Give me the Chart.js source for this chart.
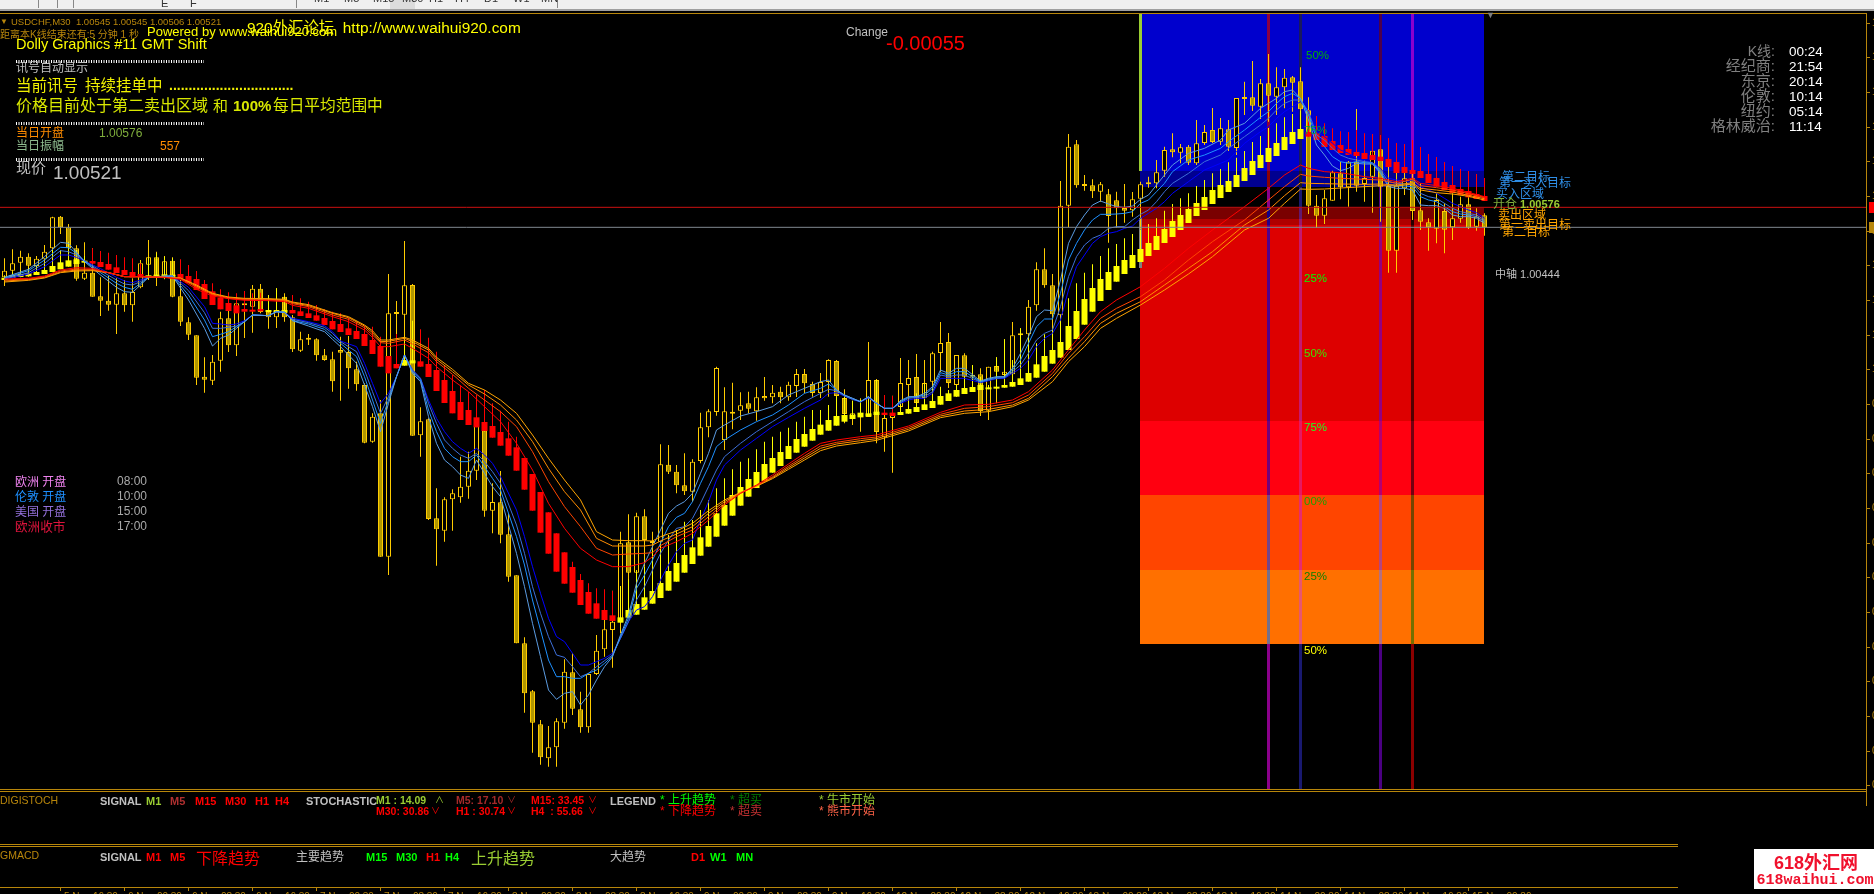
<!DOCTYPE html>
<html>
<head>
<meta charset="utf-8">
<title>USDCHF,M30</title>
<script src="https://cdn.jsdelivr.net/npm/chart.js@4"></script>
<style>
  html, body { margin: 0; padding: 0; background: #000; overflow: hidden; }
  canvas { display: block; }
</style>
</head>
<body>
<canvas id="chart" width="1874" height="894"></canvas>
<script>
// all prices are points above 1.00000 (576 = 1.00576)
const candleOpen = [366,386,410,428,400,420,453,548,516,453,362,380,309,296,284,318,282,336,404,426,363,416,309,231,192,68,56,116,243,162,288,278,332,263,246,308,246,146,180,180,132,120,148,142,90,43,-127,-42,-472,257,254,343,-108,-60,-357,-394,-300,-294,-262,-214,-94,-334,-309,-405,-528,-732,-876,-975,-1077,-1044,-970,-819,-930,-984,-824,-750,-692,-669,-429,-520,-351,-425,-427,-196,-217,-258,-277,-185,-84,-38,-122,-38,-34,-12,-36,10,6,23,6,40,76,46,19,52,115,4,-54,-54,-53,58,-114,-56,-23,43,67,4,53,139,172,43,132,68,75,-34,100,73,75,192,195,282,390,342,252,581,765,641,642,623,615,597,574,567,602,645,648,686,750,740,758,708,769,808,773,810,754,901,906,878,948,908,936,966,954,867,581,551,596,678,636,713,646,668,750,640,446,633,663,567,531,512,565,516,542,585,518,552];
const candleHigh = [423,450,446,438,430,463,548,550,526,462,471,453,366,370,363,358,363,418,478,443,430,426,358,246,192,126,133,263,293,308,323,343,346,313,333,318,253,203,196,183,151,143,188,190,113,48,-42,-2,376,295,475,346,-24,-57,-267,-294,-270,-172,-157,-72,-82,-252,-215,-342,-528,-714,-872,-962,-980,-957,-780,-762,-877,-822,-707,-662,-574,-397,-345,-340,-330,-397,-135,-137,-197,-162,-180,-40,-30,98,36,50,21,23,36,67,43,38,53,91,91,53,79,120,118,30,-4,3,172,61,-42,11,124,118,136,118,143,232,199,133,138,103,93,98,126,180,232,213,298,411,453,376,655,796,778,673,660,652,631,623,646,622,653,668,718,758,798,766,763,838,823,874,844,838,904,953,1015,961,1036,996,991,970,996,906,613,628,686,713,715,871,718,748,793,783,768,748,778,648,543,618,588,618,608,608,573,558];
const candleLow = [340,363,366,368,373,376,398,496,403,356,358,308,250,266,196,263,233,333,358,340,360,306,220,178,43,20,43,83,142,130,184,200,258,212,214,233,142,142,163,116,116,23,-4,32,26,-132,-130,-472,-527,108,108,-109,-172,-362,-499,-427,-394,-310,-298,-242,-352,-402,-432,-547,-732,-940,-1060,-1096,-1102,-1102,-988,-947,-1000,-1000,-827,-772,-805,-702,-542,-642,-502,-452,-432,-224,-282,-287,-307,-192,-114,-49,-152,-90,-62,-42,-64,-4,-12,-12,-4,7,18,8,4,8,-47,-72,-77,-97,-53,-132,-157,-220,-32,-26,-23,-11,18,82,34,8,63,38,-50,-62,-12,38,68,68,78,266,335,198,178,516,635,626,604,593,470,515,530,548,510,635,633,668,726,708,703,703,763,769,763,745,733,853,865,841,833,853,873,863,865,556,515,526,596,600,578,623,593,560,533,380,380,613,538,508,446,468,438,478,530,511,506,491];
const candleClose = [386,408,428,401,422,443,546,516,453,362,380,308,296,284,318,282,322,408,426,370,414,308,233,194,65,59,113,243,162,288,282,332,262,246,268,246,150,180,179,132,118,54,140,93,45,-130,-52,-472,258,256,342,-109,-66,-359,-390,-300,-282,-262,-214,-80,-334,-308,-406,-532,-732,-882,-970,-1074,-1044,-966,-817,-928,-984,-824,-754,-690,-667,-432,-520,-351,-422,-426,-195,-217,-258,-276,-187,-84,-36,94,-36,-37,-18,-28,6,3,20,6,44,76,48,19,52,118,10,-44,-42,-42,58,-98,-56,-40,49,64,-11,49,138,169,49,133,68,69,-35,98,83,83,192,193,278,390,342,255,581,758,642,640,624,645,550,573,566,600,645,646,681,748,741,756,710,768,802,772,813,758,904,902,881,948,911,936,965,950,870,581,551,603,681,636,713,641,664,746,638,446,641,663,565,533,516,598,509,543,585,515,548,516];

// smoothed (heiken ashi) bars
const haOpen = [358,365,367,369,373,376,382,390,398,406,410,415,412,406,396,388,382,376,366,366,367,368,376,370,361,346,324,305,289,282,271,268,271,262,261,260,268,264,258,252,244,235,226,213,205,196,178,160,130,106,101,108,114,106,88,58,25,-8,-32,-54,-68,-80,-98,-117,-144,-176,-224,-278,-339,-402,-459,-503,-542,-578,-612,-632,-648,-670,-655,-646,-631,-613,-596,-574,-547,-520,-494,-469,-442,-412,-379,-349,-319,-292,-266,-245,-220,-200,-179,-160,-142,-124,-106,-94,-79,-67,-59,-54,-52,-47,-40,-40,-47,-43,-38,-32,-26,-16,-5,8,16,22,28,30,32,35,38,43,53,65,83,107,125,148,181,224,263,295,328,353,376,394,412,430,448,469,487,508,529,550,568,586,604,622,637,655,673,694,712,730,748,766,781,802,798,790,775,763,751,742,739,733,728,721,712,697,688,685,676,664,652,643,631,625,616,610];
const haClose = [365,373,376,378,382,388,400,411,417,420,415,407,397,389,379,373,366,366,372,374,375,374,362,349,328,301,283,270,265,258,263,263,264,268,267,268,258,250,244,236,223,210,202,193,181,160,136,98,78,93,118,117,98,67,25,-11,-42,-62,-77,-84,-95,-115,-139,-169,-214,-271,-334,-400,-463,-517,-553,-580,-617,-643,-658,-662,-665,-654,-632,-614,-594,-575,-551,-515,-491,-467,-444,-414,-380,-342,-317,-287,-263,-239,-218,-194,-176,-158,-140,-119,-104,-89,-76,-62,-50,-47,-46,-40,-42,-37,-47,-50,-38,-29,-23,-15,-5,10,18,28,34,37,43,35,37,43,52,63,79,105,130,148,172,220,265,301,334,361,382,400,418,433,451,469,490,511,535,553,571,589,607,628,643,655,673,694,715,733,754,769,787,802,811,788,778,757,748,739,733,730,721,718,715,697,679,679,676,664,649,638,628,619,613,606,601,595];
const haHigh = [372,382,388,395,400,410,448,448,473,448,430,453,445,440,433,426,423,408,426,438,428,423,420,403,385,358,348,330,321,318,325,318,320,313,333,308,313,303,293,283,270,263,258,245,233,220,218,188,130,196,188,236,210,185,143,100,73,42,23,13,28,-12,-34,-67,-112,-176,-224,-278,-339,-402,-459,-487,-524,-552,-567,-570,-575,-560,-540,-512,-502,-452,-432,-407,-392,-367,-362,-332,-302,-267,-237,-210,-187,-177,-150,-127,-112,-97,-85,-67,-52,-32,-32,-17,8,8,-4,-2,8,58,13,10,-2,-2,18,48,33,38,28,43,68,103,68,43,126,180,118,213,193,168,195,208,248,303,348,380,405,430,453,466,483,496,508,526,543,566,586,603,618,640,658,678,691,711,725,745,772,790,814,828,846,856,865,868,850,828,813,804,802,808,798,796,793,784,769,766,778,757,736,727,712,700,691,685,676,664];

// fast group of moving averages, read at the listed bars only
const blueBars = [0,3,5,7,8,9,10,12,14,15,16,17,18,19,21,23,25,26,27,28,29,30,31,33,34,35,36,38,40,41,42,44,45,46,47,48,49,50,51,52,53,54,55,56,57,58,59,60,61,62,64,65,66,67,68,69,70,71,72,73,74,75,76,77,78,79,80,81,82,83,84,85,86,87,88,89,90,92,94,96,98,100,102,103,104,105,106,107,108,109,110,111,112,113,114,115,116,117,118,119,120,122,123,124,125,126,127,128,129,130,131,132,133,134,135,136,137,138,139,140,141,142,143,144,145,146,148,150,152,153,155,157,158,159,160,161,162,163,164,165,166,167,168,169,170,171,172,173,174,175,176,177,178,179,180,181,182,183,184,185];
const blueA = [366,390,428,471,468,441,413,373,336,323,321,343,366,368,370,298,213,160,183,193,213,233,253,251,263,261,236,220,203,180,158,108,43,-22,-97,-12,68,133,78,53,-52,-132,-182,-202,-227,-237,-182,-222,-262,-292,-462,-562,-672,-772,-872,-900,-882,-877,-917,-887,-842,-802,-772,-707,-647,-552,-492,-442,-392,-342,-320,-307,-282,-222,-162,-92,-77,-50,-37,-22,13,33,53,58,28,13,3,-7,8,-12,-27,-27,-4,8,8,18,38,88,78,93,93,55,63,68,68,93,138,188,248,268,266,358,468,518,553,583,595,586,578,576,580,600,613,643,673,703,738,753,778,808,828,873,888,903,923,928,903,838,763,733,700,686,693,708,706,706,678,638,633,633,628,583,581,581,573,553,548,548,543,528];
const blueB = [364,386,418,456,455,438,415,380,348,336,330,348,366,368,370,313,238,188,195,203,218,233,253,251,263,261,236,226,210,188,168,128,68,-2,-72,-2,68,133,83,58,-32,-97,-147,-172,-187,-187,-167,-202,-237,-272,-412,-497,-602,-692,-782,-832,-832,-837,-837,-822,-812,-792,-770,-712,-657,-567,-527,-482,-432,-382,-354,-342,-307,-252,-202,-142,-122,-92,-67,-47,-17,18,33,46,28,13,3,-7,8,-12,-27,-27,-7,6,8,13,33,80,73,83,83,53,60,66,67,88,118,168,218,241,241,318,418,468,508,538,555,555,556,558,563,588,598,623,648,683,718,733,753,773,808,846,863,888,908,918,903,853,783,758,728,713,708,713,710,708,683,643,640,640,638,608,598,593,578,563,556,553,548,533];
const blueC = [362,380,408,446,443,433,415,386,358,346,343,353,366,368,370,326,260,213,213,216,220,233,253,251,263,261,240,230,216,198,173,143,88,23,-42,8,68,133,88,63,-12,-72,-122,-147,-167,-177,-162,-187,-217,-252,-377,-462,-562,-642,-712,-767,-774,-802,-832,-822,-802,-784,-767,-717,-667,-602,-562,-512,-462,-422,-387,-382,-357,-312,-262,-212,-172,-132,-97,-67,-37,-7,18,30,26,10,0,-7,6,-12,-27,-27,-10,3,6,8,23,73,68,73,73,52,58,63,65,83,103,138,178,198,208,278,368,428,463,483,493,513,518,518,538,555,568,593,623,648,678,713,733,753,788,823,843,868,888,898,898,863,793,778,753,733,723,718,713,710,688,653,648,646,646,618,608,603,588,573,563,558,553,538];
const blueD = [360,376,398,433,433,426,415,392,366,355,350,358,368,368,370,336,278,228,226,223,226,236,253,251,263,261,243,233,221,203,175,158,108,48,-12,18,68,133,88,63,-2,-57,-97,-127,-147,-162,-147,-167,-192,-232,-332,-412,-502,-582,-657,-712,-727,-762,-797,-797,-787,-777,-762,-717,-667,-632,-622,-592,-542,-497,-457,-432,-422,-362,-307,-242,-197,-152,-117,-82,-54,-27,-2,18,20,10,0,-8,4,-12,-27,-27,-12,-2,3,3,18,63,63,63,63,50,56,62,63,78,93,118,158,183,198,238,328,398,433,468,488,498,503,513,520,543,558,573,593,618,653,688,708,718,768,803,818,843,863,878,893,863,803,788,768,748,738,723,716,710,693,663,658,653,658,638,628,618,603,588,578,568,560,543];

// slow group of moving averages
const redBars = [0,3,5,7,9,11,13,15,17,20,22,24,26,28,30,33,35,36,38,41,43,45,46,47,48,50,51,53,54,56,58,60,62,64,66,68,70,72,74,76,78,80,81,82,84,86,88,90,92,94,96,98,100,102,104,107,109,113,117,120,123,126,128,131,133,135,137,139,142,145,148,151,155,158,160,162,163,165,167,170,172,174,176,177,179,181,183,185];
const redA = [361,363,370,388,395,393,380,368,368,366,360,330,310,302,297,296,293,282,273,248,233,208,186,158,158,166,153,123,98,58,23,-22,-67,-132,-212,-312,-387,-447,-482,-502,-502,-490,-472,-447,-427,-402,-362,-317,-282,-257,-227,-194,-162,-132,-122,-112,-107,-80,-39,-17,-15,-2,23,88,148,208,263,298,338,393,453,508,578,633,673,703,693,683,680,668,663,653,663,648,641,633,621,608];
const redB = [358,361,368,385,391,390,380,368,368,366,362,336,314,303,299,298,296,287,278,253,240,215,193,170,168,178,166,140,113,75,33,-2,-37,-82,-157,-247,-322,-382,-447,-467,-464,-462,-460,-439,-412,-392,-352,-312,-282,-259,-232,-200,-170,-140,-129,-118,-113,-85,-45,-27,-22,-10,13,78,138,188,243,273,308,358,418,473,538,598,638,675,670,666,663,660,658,648,660,641,635,628,617,606];
const redC = [355,359,366,382,388,388,380,368,368,366,363,340,316,305,301,300,298,290,281,258,245,220,200,173,174,183,173,148,120,83,43,16,-17,-62,-127,-207,-277,-332,-417,-440,-440,-440,-437,-425,-404,-382,-342,-307,-280,-260,-235,-205,-176,-147,-134,-124,-118,-90,-50,-35,-30,-17,3,68,123,173,228,258,293,343,393,443,523,568,611,650,648,647,646,645,646,643,650,633,628,622,612,602];
const redD = [352,357,364,380,385,386,380,368,368,366,364,343,318,307,303,302,300,292,284,260,248,223,206,178,178,186,178,153,126,90,48,28,-2,-42,-107,-177,-242,-302,-397,-422,-424,-424,-425,-412,-395,-372,-334,-302,-279,-261,-238,-210,-182,-154,-140,-130,-123,-95,-55,-42,-37,-22,-2,53,113,158,213,243,283,328,376,428,508,543,588,631,630,631,634,638,641,640,646,628,620,616,609,598];

// price levels and session markers
const openLevel = 576;
const closeLevel = 516;
const sessionBars = [158, 162, 172, 176];
const sessionColors = ['#8b008b', '#191970', '#4b0082', '#8b0000'];
const sessionTop = 1159, sessionBottom = -1169;
const dayStartBar = 142;
const dayEndBar = 185;

// daily range bands, low and high edge of each
const bandLow = [685, 637, 541, 523, -65, -287, -512, -734];
const bandHigh = [1159, 685, 574, 541, 523, -65, -287, -512];
const bandColors = ['#0000cd', '#000090', '#7a0000', '#b00000', '#dd0000', '#ff0010', '#ff4500', '#ff7000'];

const priceTicks = [1130,1026,922,818,714,610,506,402,298,194,90,-14,-118,-222,-326,-430,-534,-638,-742,-846,-950,-1054,-1158];
const timeTickBars = [7,15,23,31,39,47,55,63,71,79,87,95,103,111,119,127,135,143,151,159,167,175,183];
const timeTickLabels = ['5 Nov 16:30','6 Nov 00:30','6 Nov 08:30','6 Nov 16:30','7 Nov 00:30','7 Nov 08:30','7 Nov 16:30','8 Nov 00:30','8 Nov 08:30','8 Nov 16:30','9 Nov 00:30','9 Nov 08:30','9 Nov 16:30','12 Nov 00:30','12 Nov 08:30','12 Nov 16:30','13 Nov 00:30','13 Nov 08:30','13 Nov 16:30','14 Nov 00:30','14 Nov 08:30','14 Nov 16:30','15 Nov 00:30'];

const GOLD = '#b8860b';
const SANS = '"Liberation Sans","Noto Sans CJK SC",sans-serif';

// text, x, y (middle), colour, font size, bold, align
const texts = [
  ['USDCHF,M30  1.00545 1.00545 1.00506 1.00521', 11, 22, GOLD, 9.5],
  ['距离本K线结束还有:5 分钟 1 秒', 0, 35, GOLD, 10],
  ['Powered by www.waihui920.com', 147, 32, '#ffff00', 13],
  ['920外汇论坛  http://www.waihui920.com', 247, 29, '#ffff00', 15.4],
  ['Dolly Graphics #11 GMT Shift', 16, 45, '#ffff00', 14.5],
  ['讯号自动显示', 16, 69, '#c0c0c0', 12],
  ['当前讯号', 16, 87, '#f0f000', 15.5],
  ['持续挂单中', 85, 87, '#f0f000', 15.5],
  ['................................', 169, 86, '#f0f000', 14, true],
  ['价格目前处于第二卖出区域', 16, 107, '#d8e800', 16],
  ['和', 213, 107, '#d8e800', 15],
  ['100%', 233, 107, '#d8e800', 15, true],
  ['每日平均范围中', 273, 107, '#d8e800', 15.7],
  ['当日开盘', 16, 134, '#ff8c00', 12],
  ['1.00576', 99, 134, '#7fae3c', 12],
  ['当日振幅', 16, 147, '#8fbc8f', 12],
  ['557', 160, 147, '#ff8c00', 12],
  ['现价', 16, 169, '#c0c0c0', 15],
  ['1.00521', 53, 174, '#c0c0c0', 19],
  ['Change', 846, 33, '#c0c0c0', 12],
  ['-0.00055', 886, 44, '#ff0000', 20],
  ['K线:', 1775, 52, '#808080', 14, false, 'right'],
  ['经纪商:', 1775, 67, '#808080', 15, false, 'right'],
  ['东京:', 1775, 82, '#808080', 15, false, 'right'],
  ['伦敦:', 1775, 97, '#808080', 15, false, 'right'],
  ['纽约:', 1775, 112, '#808080', 15, false, 'right'],
  ['格林威治:', 1775, 127, '#808080', 15, false, 'right'],
  ['00:24', 1789, 52, '#ffffff', 13.5],
  ['21:54', 1789, 67, '#ffffff', 13.5],
  ['20:14', 1789, 82, '#ffffff', 13.5],
  ['10:14', 1789, 97, '#ffffff', 13.5],
  ['05:14', 1789, 112, '#ffffff', 13.5],
  ['11:14', 1789, 127, '#ffffff', 13.5],
  ['50%', 1306, 56, '#00b000', 11.5],
  ['75%', 1304, 131, '#00a830', 11.5],
  ['25%', 1304, 279, '#00ff00', 11.5],
  ['50%', 1304, 354, '#40e000', 11.5],
  ['75%', 1304, 428, '#20ff20', 11.5],
  ['00%', 1304, 502, '#20a000', 11.5],
  ['25%', 1304, 577, '#108000', 11.5],
  ['50%', 1304, 651, '#ffff00', 11.5],
  ['第二目标', 1502, 178, '#2f8fe8', 12],
  ['第一买入目标', 1499, 184, '#2f8fe8', 12],
  ['买入区域', 1496, 195, '#2f8fe8', 12],
  ['开仓', 1493, 205, '#7fae3c', 12],
  ['1.00576', 1520, 205, '#9acd32', 11, true],
  ['卖出区域', 1498, 216, '#ffa500', 12],
  ['第一卖出目标', 1499, 226, '#ffa500', 12],
  ['第二目标', 1502, 233, '#ffa500', 12],
  ['中轴 1.00444', 1495, 275, '#c0c0c0', 11],
  ['欧洲 开盘', 15, 483, '#ee82ee', 12],
  ['伦敦 开盘', 15, 498, '#1e90ff', 12],
  ['美国 开盘', 15, 513, '#9370db', 12],
  ['欧洲收市', 15, 528, '#dc143c', 12.6],
  ['08:00', 117, 482, '#a9a9a9', 12],
  ['10:00', 117, 497, '#a9a9a9', 12],
  ['15:00', 117, 512, '#a9a9a9', 12],
  ['17:00', 117, 527, '#a9a9a9', 12],
  ['DIGISTOCH', 0, 801, GOLD, 10.5],
  ['SIGNAL', 100, 802, '#c0c0c0', 11, true],
  ['M1', 146, 802, '#9acd32', 11, true],
  ['M5', 170, 802, '#b03030', 11, true],
  ['M15', 195, 802, '#ff0000', 11, true],
  ['M30', 225, 802, '#ff0000', 11, true],
  ['H1', 255, 802, '#ff0000', 11, true],
  ['H4', 275, 802, '#ff0000', 11, true],
  ['STOCHASTIC', 306, 802, '#c0c0c0', 11, true],
  ['M1 : 14.09', 376, 801, '#9acd32', 10.5, true],
  ['∧', 435, 801, '#9acd32', 9],
  ['M5: 17.10', 456, 801, '#a52a2a', 10.5, true],
  ['∨', 507, 801, '#a52a2a', 9],
  ['M15: 33.45', 531, 801, '#ff0000', 10.5, true],
  ['∨', 588, 801, '#ff0000', 9],
  ['M30: 30.86', 376, 812, '#ff0000', 10.5, true],
  ['∨', 431, 812, '#ff0000', 9],
  ['H1 : 30.74', 456, 812, '#ff0000', 10.5, true],
  ['∨', 507, 812, '#ff0000', 9],
  ['H4  : 55.66', 531, 812, '#ff0000', 10.5, true],
  ['∨', 588, 812, '#ff0000', 9],
  ['LEGEND', 610, 802, '#c0c0c0', 11, true],
  ['* 上升趋势', 660, 801, '#00ff00', 12],
  ['* 下降趋势', 660, 812, '#ff0000', 12],
  ['* 超买', 730, 801, '#008000', 12],
  ['* 超卖', 730, 812, '#c03030', 12],
  ['* 牛市开始', 819, 801, '#9acd32', 12],
  ['* 熊市开始', 819, 812, '#ff6347', 12],
  ['GMACD', 0, 856, GOLD, 10.5],
  ['SIGNAL', 100, 858, '#c0c0c0', 11, true],
  ['M1', 146, 858, '#ff0000', 11, true],
  ['M5', 170, 858, '#ff0000', 11, true],
  ['下降趋势', 196, 860, '#ff0000', 16],
  ['主要趋势', 296, 858, '#c0c0c0', 12],
  ['M15', 366, 858, '#00ff00', 11, true],
  ['M30', 396, 858, '#00ff00', 11, true],
  ['H1', 426, 858, '#ff0000', 11, true],
  ['H4', 445, 858, '#00ff00', 11, true],
  ['上升趋势', 471, 860, '#9acd32', 16],
  ['大趋势', 610, 858, '#c0c0c0', 12],
  ['D1', 691, 858, '#ff0000', 11, true],
  ['W1', 710, 858, '#00ff00', 11, true],
  ['MN', 736, 858, '#00ff00', 11, true],
  ['▼', 0, 22, GOLD, 8],
  ['▼', 1486, 16, '#7f7f7f', 9]
];

const toolbarLabels = [['M1', 314], ['M5', 344], ['M15', 373], ['M30', 402], ['H1', 429], ['H4', 455], ['D1', 484], ['W1', 513], ['MN', 541]];

function barRange(bar, a, b) { return { x: bar, y: [Math.min(a, b), Math.max(a, b)] }; }
function seriesOf(bars, values) { return bars.map((b, i) => ({ x: b, y: values[i] })); }
function barSet(data, thickness, color, extra) {
  return Object.assign({
    type: 'bar', data, grouped: false, barThickness: thickness, backgroundColor: color,
    borderWidth: 0, borderSkipped: false, inflateAmount: 0
  }, extra);
}
function lineSet(data, color) {
  return { type: 'line', data, borderColor: color, borderWidth: 1, pointRadius: 0, tension: 0, fill: false };
}

const barIdx = candleOpen.map((_, i) => i);
const haUp = barIdx.map(i => haClose[i] >= haOpen[i]);
const bandBar = (dayStartBar + dayEndBar) / 2 - 1 / 16;
const levelEnd = (1866 - 4.5) / 8;

const datasets = [
  barSet(bandLow.map((lo, i) => barRange(bandBar, lo, bandHigh[i])), (dayEndBar - dayStartBar) * 8, bandColors),
  barSet(sessionBars.map(b => barRange(b, sessionBottom, sessionTop)), 3, sessionColors, { blend: true }),
  barSet([barRange(dayStartBar, 685, 1159), barRange(dayStartBar, 394, 544)], 3, ['#9acd32', '#808080']),
  barSet(barIdx.map(i => barRange(i, candleLow[i], candleHigh[i])), 1, '#ffcc00'),
  barSet(barIdx.map(i => barRange(i, candleOpen[i], candleClose[i])), 5,
    barIdx.map(i => candleClose[i] >= candleOpen[i] ? '#000000' : '#b09600'),
    { borderWidth: 1, borderColor: '#ffcc00', minBarLength: 2 }),
  barSet(barIdx.map(i => barRange(i, Math.min(haOpen[i], haClose[i]), haHigh[i])), 1,
    barIdx.map(i => haUp[i] ? '#ffff00' : '#ff0000')),
  barSet(barIdx.map(i => barRange(i, haOpen[i], haClose[i])), 6,
    barIdx.map(i => haUp[i] ? '#ffff00' : '#ff0000'), { minBarLength: 2 }),
  lineSet(seriesOf(blueBars, blueD), '#0000ff'),
  lineSet(seriesOf(blueBars, blueC), '#3d6fd8'),
  lineSet(seriesOf(blueBars, blueB), '#1e90ff'),
  lineSet(seriesOf(blueBars, blueA), '#5b9be0'),
  lineSet(seriesOf(redBars, redD), '#ffa500'),
  lineSet(seriesOf(redBars, redC), '#ff8c00'),
  lineSet(seriesOf(redBars, redB), '#ff4500'),
  lineSet(seriesOf(redBars, redA), '#ff0000'),
  lineSet([{ x: -0.5625, y: openLevel }, { x: levelEnd, y: openLevel }], '#cc1010'),
  lineSet([{ x: -0.5625, y: closeLevel }, { x: levelEnd, y: closeLevel }], '#808890')
];
// first in the list is painted first
datasets.forEach((d, i) => { d.order = datasets.length - i; });

function hline(ctx, y, x1, x2, color) {
  ctx.fillStyle = color;
  ctx.fillRect(x1, y, x2 - x1, 1);
}

const chrome = {
  id: 'chrome',
  beforeDraw(chart) {
    const ctx = chart.ctx;
    ctx.save();
    ctx.fillStyle = '#000';
    ctx.fillRect(0, 0, 1874, 894);
    ctx.restore();
  },
  beforeDatasetDraw(chart, args) {
    if (chart.data.datasets[args.index].blend) {
      chart.ctx.save();
      chart.ctx.globalCompositeOperation = 'difference';
    }
  },
  afterDatasetDraw(chart, args) {
    if (chart.data.datasets[args.index].blend) chart.ctx.restore();
  },
  afterDraw(chart) {
    const ctx = chart.ctx, xs = chart.scales.x, ys = chart.scales.y;
    ctx.save();

    // window toolbar cut off at the top
    ctx.fillStyle = '#f0f0f0';
    ctx.fillRect(0, 0, 1874, 9);
    ctx.fillStyle = '#a0a0a0';
    ctx.fillRect(0, 9, 1874, 2);
    ctx.fillStyle = '#888';
    [38, 57, 73, 296, 557].forEach(x => ctx.fillRect(x, 0, 1, 8));
    ctx.fillStyle = '#dcdcdc';
    ctx.fillRect(390, 0, 25, 9);
    ctx.fillStyle = '#333';
    ctx.textBaseline = 'alphabetic';
    ctx.font = '11px ' + SANS;
    toolbarLabels.forEach(l => ctx.fillText(l[0], l[1], 2));
    ctx.fillText('E', 161, 7);
    ctx.fillText('F', 190, 7);

    // frame
    hline(ctx, 13, 0, 1867, GOLD);
    ctx.fillStyle = GOLD;
    ctx.fillRect(1866, 13, 1, 793);
    hline(ctx, 789, 0, 1866, GOLD);
    hline(ctx, 791, 0, 1866, GOLD);
    hline(ctx, 844, 0, 1678, GOLD);
    hline(ctx, 846, 0, 1678, GOLD);
    hline(ctx, 887, 0, 1678, GOLD);

    // price ticks and the labels cut off by the window edge
    ctx.textBaseline = 'middle';
    ctx.font = '10px ' + SANS;
    priceTicks.forEach(v => {
      const y = Math.round(ys.getPixelForValue(v));
      ctx.fillStyle = GOLD;
      ctx.fillRect(1866, y, 4, 1);
      ctx.fillText((1 + v / 100000).toFixed(5), 1872, y);
    });
    [[openLevel, '#ff0000'], [closeLevel, GOLD]].forEach(l => {
      const y = Math.round(ys.getPixelForValue(l[0]));
      ctx.fillStyle = l[1];
      ctx.fillRect(1869, y - 5, 5, 11);
    });

    // time ticks
    timeTickBars.forEach((b, i) => {
      const x = xs.getPixelForValue(b);
      ctx.fillStyle = GOLD;
      ctx.fillRect(Math.floor(x), 887, 1, 4);
      ctx.font = '10px ' + SANS;
      ctx.fillText(timeTickLabels[i], Math.floor(x) + 4, 897);
    });

    // dotted separators
    ctx.strokeStyle = '#fff';
    ctx.lineWidth = 3;
    ctx.setLineDash([1, 1.5]);
    [61, 123, 159].forEach(y => {
      ctx.beginPath();
      ctx.moveTo(16, y + 0.5);
      ctx.lineTo(204, y + 0.5);
      ctx.stroke();
    });
    ctx.setLineDash([]);

    // watermark
    ctx.fillStyle = '#fff';
    ctx.fillRect(1754, 849, 120, 40);
    ctx.fillStyle = '#f0102c';
    ctx.textAlign = 'center';
    ctx.font = 'bold 18px ' + SANS;
    ctx.fillText('618外汇网', 1816, 864);
    ctx.font = 'bold 15px "Liberation Mono","Noto Sans CJK SC",monospace';
    ctx.fillText('618waihui.com', 1815, 880);

    texts.forEach(t => {
      ctx.textAlign = t[6] || 'left';
      ctx.font = (t[5] ? 'bold ' : '') + t[4] + 'px ' + SANS;
      ctx.fillStyle = t[3];
      ctx.fillText(t[0], t[1], t[2]);
    });
    ctx.restore();
  }
};

new Chart(document.getElementById('chart').getContext('2d'), {
  data: { datasets },
  plugins: [chrome],
  options: {
    responsive: false,
    animation: false,
    devicePixelRatio: 1,
    layout: { padding: 0 },
    plugins: { legend: { display: false }, tooltip: { enabled: false } },
    events: [],
    scales: {
      x: { type: 'linear', display: false, min: -0.5625, max: 233.6875, offset: false },
      y: { type: 'linear', display: false, min: -1484, max: 1198 }
    }
  }
});
</script>
</body>
</html>
